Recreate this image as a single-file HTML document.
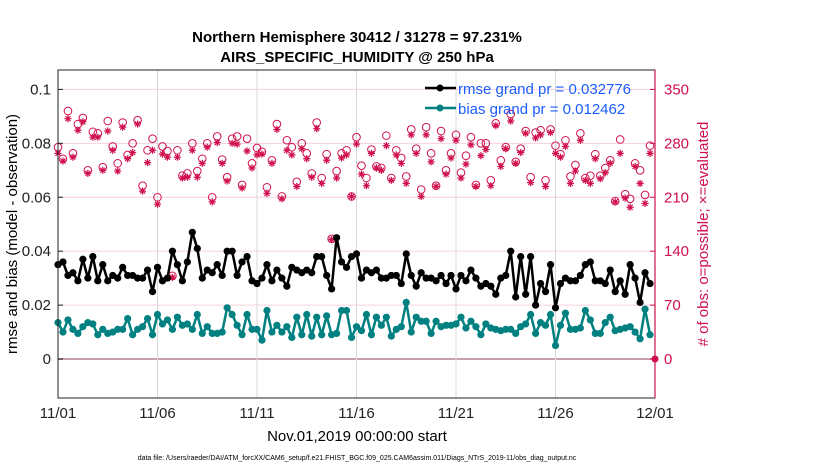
<!DOCTYPE html>
<html><head><meta charset="utf-8"><style>
body{margin:0;background:#fff;}
svg{display:block;font-family:"Liberation Sans",sans-serif;}
</style></head><body>
<svg id="chart" width="830" height="470" viewBox="0 0 830 470" xmlns="http://www.w3.org/2000/svg">
<text x="357" y="42" text-anchor="middle" font-size="15" font-weight="bold">Northern Hemisphere 30412 / 31278 = 97.231%</text>
<text x="357" y="62" text-anchor="middle" font-size="15" font-weight="bold">AIRS_SPECIFIC_HUMIDITY @ 250 hPa</text>
<g id="grid"></g>
<g id="marks"></g>
<rect x="58" y="70" width="597" height="328" fill="none" stroke="#222" stroke-width="1"/>
<line x1="655" y1="70" x2="655" y2="398" stroke="#d0104c" stroke-width="1.2"/>
<g id="axes"></g>
<g>
<line x1="425" y1="88" x2="456" y2="88" stroke="#000" stroke-width="2.5"/><circle cx="440" cy="88" r="3.5" fill="#000"/>
<text x="458" y="94" font-size="15" fill="#1a5cff">rmse grand pr = 0.032776</text>
<line x1="425" y1="108" x2="456" y2="108" stroke="#008080" stroke-width="2.5"/><circle cx="440" cy="108" r="3.5" fill="#008080"/>
<text x="458" y="114" font-size="15" fill="#1a5cff">bias grand pr = 0.012462</text>
</g>
<text transform="translate(17,234) rotate(-90)" text-anchor="middle" font-size="15">rmse and bias (model - observation)</text>
<text transform="translate(708,234) rotate(-90)" text-anchor="middle" font-size="15" fill="#d0104c"># of obs: o=possible; ×=evaluated</text>
<text x="357" y="441" text-anchor="middle" font-size="15">Nov.01,2019 00:00:00 start</text>
<text x="357" y="460" text-anchor="middle" font-size="7">data file: /Users/raeder/DAI/ATM_forcXX/CAM6_setup/f.e21.FHIST_BGC.f09_025.CAM6assim.011/Diags_NTrS_2019-11/obs_diag_output.nc</text>
</svg>
<script>
const rmse=[.035,.036,.031,.032,.029,.037,.030,.038,.029,.035,.029,.031,.030,.034,.031,.031,.030,.030,.033,.025,.034,.029,.030,.040,.035,.029,.036,.047,.041,.030,.033,.032,.035,.031,.040,.040,.031,.036,.038,.029,.028,.030,.035,.029,.033,.030,.027,.034,
.033,.032,.033,.032,.038,.038,.031,.026,.045,.036,.034,.038,
.039,.030,.033,.032,.033,.030,.030,.031,.031,.028,.039,.031,.027,.032,.030,.030,.029,.031,.028,.031,.026,.031,.029,.033,.030,.027,.028,.027,.024,.030,
.031,.040,.023,.038,.024,.038,.020,.028,.025,.035,.019,.028,.030,.029,.029,.031,.035,.036,.029,.029,.028,.033,.025,.029,.024,.035,.030,.021,.032,.028];
const bias=[.0135,.010,.0145,.011,.0095,.012,.0135,.013,.009,.011,.0095,.010,.011,.011,.015,.009,.011,.012,.015,.009,.0165,.013,.0145,.011,.0155,.0125,.013,.011,.0165,.0095,.012,.0095,.0095,.010,.019,.0165,.0125,.009,.0165,.011,.011,.007,.018,.010,.0125,.010,.012,.008,
.0155,.009,.0165,.0085,.0155,.009,.016,.009,.0095,.018,.018,.008,
.012,.0105,.0165,.009,.0155,.0125,.0155,.0085,.011,.012,.021,.010,.0155,.014,.014,.0095,.014,.012,.0125,.0125,.013,.0155,.0115,.014,.012,.009,.013,.0115,.011,.0105,
.011,.011,.0095,.012,.013,.0165,.0095,.0135,.0125,.0165,.005,.0125,.017,.011,.011,.0115,.018,.0145,.0095,.0095,.0135,.0155,.0105,.011,.0115,.012,.010,.0075,.0185,.009];
const possible=[275,260,322,267,305,313,245,295,293,249,309,276,254,307,265,280,310,225,271,286,210,276,270,108,271,238,241,280,244,260,280,
210,289,259,236,286,289,226,286,254,274,269,223,258,305,211,284,275,230,280,267,241,307,235,266,156,244,267,271,211,288,
251,235,272,250,248,290,235,271,261,237,298,273,220,301,267,225,296,245,267,291,242,264,288,226,280,280,232,306,258,275,
318,256,273,296,236,294,297,232,298,277,266,284,237,252,293,235,238,266,238,248,258,205,285,214,208,254,245,213,277];
const evaluated=[267,257,312,262,297,308,241,288,288,245,296,271,244,301,260,268,305,218,255,271,201,266,262,106,262,235,236,271,236,254,275,
204,281,254,231,280,279,222,270,248,265,266,215,254,298,208,271,265,224,273,260,236,299,228,258,155,235,261,265,211,279,
240,225,267,248,245,277,232,265,254,228,291,267,211,291,256,224,286,240,261,284,235,253,278,224,264,272,225,303,250,273,
309,254,268,293,229,287,291,224,294,267,262,276,228,244,284,232,228,260,234,242,254,204,267,209,197,250,228,202,267];
const yTicks=[0,0.02,0.04,0.06,0.08,0.1];
const yTickLabels=["0","0.02","0.04","0.06","0.08","0.1"];
const rTicks=[0,70,140,210,280,350];
const xTickDays=[0,5,10,15,20,25,30];
const xTickLabels=["11/01","11/06","11/11","11/16","11/21","11/26","12/01"];

const NS="http://www.w3.org/2000/svg";
const X0=58,X1=655,Y0=398,Y1=70,yMin=-0.01446,yMax=0.1072,rScale=3500;
const xs=d=>X0+(d/30)*(X1-X0);
const ys=v=>Y0-(v-yMin)/(yMax-yMin)*(Y0-Y1);
const yr=c=>ys(c/rScale);
function mk(tag,parent,attrs){const e=document.createElementNS(NS,tag);for(const k in attrs)e.setAttribute(k,attrs[k]);parent.appendChild(e);return e;}
const grid=document.getElementById('grid'),marks=document.getElementById('marks'),axes=document.getElementById('axes');

yTicks.forEach((v,i)=>{
  const l=mk('line',grid,{x1:X0,x2:X1,y1:ys(v),y2:ys(v),stroke:v===0?'#c8a0aa':'#f7d0dc','stroke-width':v===0?2:1});
  
  
  const t=mk('line',axes,{x1:X0,x2:X0+5,y1:ys(v),y2:ys(v),stroke:'#222'});
  
  
  const tx=mk('text',axes,{x:X0-7,y:ys(v)+5,'text-anchor':'end','font-size':15,fill:'#222'});
  tx.textContent=yTickLabels[i];
  
  
});
rTicks.forEach(c=>{
  const t=mk('line',axes,{x1:X1-5,x2:X1,y1:yr(c),y2:yr(c),stroke:'#d0104c'});
  
  
  const tx=mk('text',axes,{x:X1+9,y:yr(c)+5,'font-size':15,fill:'#d0104c'});
  tx.textContent=String(c);
  
  
});
xTickDays.forEach((d,i)=>{
  const l=mk('line',grid,{x1:xs(d),x2:xs(d),y1:Y1,y2:Y0,stroke:'#d8d8d8','stroke-width':1});
  
  
  const tx=mk('text',axes,{x:xs(d),y:418,'text-anchor':'middle','font-size':15,fill:'#222'});
  tx.textContent=xTickLabels[i];
  
  
});

const red='#d0104c';
possible.forEach((c,i)=>{
  const x=xs(i/4);
  const o=mk('circle',marks,{cx:x,cy:yr(c),r:3.8,fill:'none',stroke:red,'stroke-width':1});
  
  
});
evaluated.forEach((c,i)=>{
  const x=xs(i/4),y=yr(c),r=3.6;
  const s=mk('path',marks,{d:`M${x-r},${y}H${x+r}M${x},${y-r}V${y+r}M${x-r*.7},${y-r*.7}L${x+r*.7},${y+r*.7}M${x-r*.7},${y+r*.7}L${x+r*.7},${y-r*.7}`,stroke:red,'stroke-width':1.2,fill:'none'});
  
  
});
function series(arr,color,name){
  const p=mk('polyline',marks,{points:arr.map((v,i)=>xs(i/4)+','+ys(v)).join(' '),fill:'none',stroke:color,'stroke-width':2.5,'stroke-linejoin':'round'});
  
  
  arr.forEach((v,i)=>{
    const c=mk('circle',marks,{cx:xs(i/4),cy:ys(v),r:3.6,fill:color});
    
    
  });
}
series(bias,'#008080','bias');
series(rmse,'#000','rmse');
const endDot=mk('circle',marks,{cx:X1,cy:ys(0),r:3.5,fill:red});


</script>
</body></html>
